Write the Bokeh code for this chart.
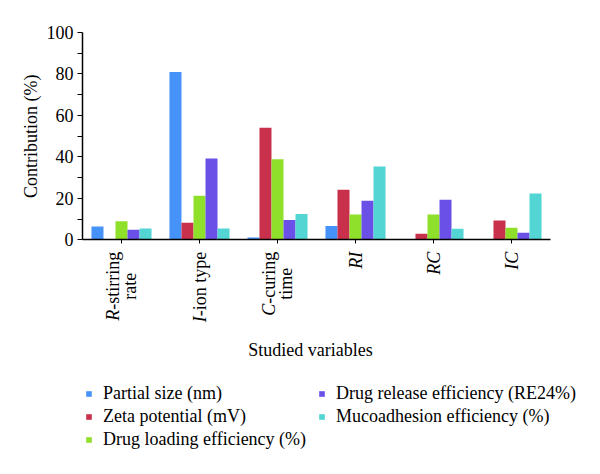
import math
from bokeh.plotting import figure
from bokeh.models import (Range1d, FixedTicker, Label, Legend, LegendItem,
                          ColumnDataSource)
from bokeh.embed import file_html
from bokeh.resources import INLINE

# ---------------- data ----------------
cat_italic = ["R", "I", "C", "RI", "RC", "IC"]
cat_rest = ["-stirring", "-ion type", "-curing", "", "", ""]
cat_line2 = ["rate", "", "time", "", "", ""]

series_names = ["Partial size (nm)", "Zeta potential (mV)",
                "Drug loading efficiency (%)", "Drug release efficiency (RE24%)",
                "Mucoadhesion efficiency (%)"]
partial_size = [6.4, 81.0, 1.1, 6.6, 0.2, 0.2]
zeta_potential = [0.3, 8.2, 54.1, 24.1, 2.9, 9.3]
drug_loading = [9.0, 21.2, 38.8, 12.2, 12.2, 5.8]
drug_release = [4.8, 39.2, 9.6, 18.8, 19.3, 3.4]
mucoadhesion = [5.4, 5.4, 12.5, 35.3, 5.3, 22.3]
y_ticks = [0, 20, 40, 60, 80, 100]
y_minor = [10, 30, 50, 70, 90]
x_title = "Studied variables"
y_title = "Contribution (%)"

colors = ["#4592f8", "#c8304c", "#8ee02b", "#6b50e8", "#52d5d3"]
FONT = "Liberation Serif"
FS = 18

values = [partial_size, zeta_potential, drug_loading, drug_release, mucoadhesion]
n = len(cat_italic)
xc = [i + 0.5 for i in range(n)]

# The frame is extended beyond the value area (all sides) so that the
# category labels, titles, tick labels and legend are drawn inside it.
X_PX = 78                          # pixels per category slot
Y_PX = 2.073                       # pixels per percentage point
x_lo, x_hi = -1.0, n + 0.5
FRAME_W = int(round((x_hi - x_lo) * X_PX))
TOP = 10                           # frame top (px)
TOP_PAD = 22                       # px between frame top and the value 100
FRAME_H = 442
y_end = 100 + TOP_PAD / Y_PX
y_start = y_end - FRAME_H / Y_PX

p = figure(frame_width=FRAME_W, frame_height=FRAME_H, output_backend="svg",
           toolbar_location=None,
           x_range=Range1d(x_lo, x_hi), y_range=Range1d(y_start, y_end),
           min_border_left=4, min_border_right=3, min_border_top=TOP,
           min_border_bottom=0)
p.outline_line_color = None
p.xgrid.visible = False
p.ygrid.visible = False
p.background_fill_color = "white"

bw = 0.154
renderers = []
for k, (name, vals, col) in enumerate(zip(series_names, values, colors)):
    src = ColumnDataSource(dict(x=[c + (k - 2) * bw for c in xc], top=vals))
    r = p.vbar(x="x", top="top", width=bw, bottom=0, source=src,
               fill_color=col, line_color=None)
    renderers.append(r)

# y axis pinned at x = 0, spanning 0..100
ya = p.yaxis[0]
ya.fixed_location = 0
ya.bounds = (0, 100)
ya.ticker = FixedTicker(ticks=y_ticks, minor_ticks=y_minor)
ya.major_label_text_font = FONT
ya.major_label_text_font_size = f"{FS}px"
ya.major_label_text_color = "black"
ya.major_label_standoff = 4
ya.major_tick_out = 5
ya.major_tick_in = 0
ya.minor_tick_out = 5
ya.minor_tick_in = 0
ya.axis_line_color = "black"
ya.axis_line_width = 1.5
ya.major_tick_line_color = "black"
ya.minor_tick_line_color = "black"

# x axis pinned at value 0, spanning the categories
xa = p.xaxis[0]
xa.fixed_location = 0
xa.bounds = (0, n)
xa.ticker = FixedTicker(ticks=xc)
xa.major_label_overrides = {c: "" for c in xc}
xa.major_label_text_font_size = "1px"
xa.major_label_standoff = 0
xa.major_tick_out = 4
xa.major_tick_in = 0
xa.minor_tick_out = 0
xa.minor_tick_in = 0
xa.axis_line_color = "black"
xa.axis_line_width = 1.5
xa.major_tick_line_color = "black"

# approximate Times advance widths (per 1000 em) to stack label pieces
W_ROMAN = {'-': 333, 's': 389, 't': 278, 'i': 278, 'r': 333, 'n': 500, 'g': 500,
           'o': 500, ' ': 250, 'y': 500, 'p': 500, 'e': 444, 'c': 444, 'u': 500,
           'a': 444, 'm': 778}
W_ITAL = {'R': 611, 'I': 333, 'C': 667}


def tw(s, table):
    return sum(table.get(ch, 500) for ch in s) * FS / 1000.0


TOP_GAP = 12
for i in range(n):
    two = cat_line2[i] != ""
    dx1 = -9 if two else 0
    w_rest = tw(cat_rest[i], W_ROMAN)
    w_line1 = w_rest + tw(cat_italic[i], W_ITAL)
    common = dict(angle=math.pi / 2, angle_units="rad", text_font=FONT,
                  text_font_size=f"{FS}px", text_color="black",
                  text_baseline="middle", x=xc[i], y=0)
    if cat_rest[i]:
        p.add_layout(Label(text=cat_rest[i], text_align="right",
                           x_offset=dx1, y_offset=-TOP_GAP, **common))
    p.add_layout(Label(text=cat_italic[i], text_align="right",
                       text_font_style="italic", x_offset=dx1,
                       y_offset=-(TOP_GAP + w_rest), **common))
    if two:
        p.add_layout(Label(text=cat_line2[i], text_align="center", x_offset=8,
                           y_offset=-(TOP_GAP + w_line1 / 2), **common))

# axis titles
p.add_layout(Label(x=n / 2, y=0, x_offset=-6, y_offset=-110, text=x_title,
                   text_align="center", text_baseline="middle", text_font=FONT,
                   text_font_size=f"{FS}px", text_color="black"))
p.add_layout(Label(x=0, y=50, x_offset=-52, text=y_title, angle=math.pi / 2,
                   angle_units="rad", text_align="center", text_baseline="middle",
                   text_font=FONT, text_font_size=f"{FS}px", text_color="black"))

# legends (two columns), positioned relative to the frame's bottom-left corner
items1 = [LegendItem(label=series_names[k], renderers=[renderers[k]]) for k in range(3)]
items2 = [LegendItem(label=series_names[k], renderers=[renderers[k]]) for k in range(3, 5)]
for items, loc in ((items1, (81, 1)), (items2, (314, 24))):
    leg = Legend(items=items, location=loc, orientation="vertical",
                 glyph_width=7, glyph_height=7, label_standoff=11,
                 label_height=23, spacing=0, padding=0, margin=0,
                 label_text_font=FONT, label_text_font_size=f"{FS}px",
                 label_text_color="black", border_line_color=None,
                 background_fill_alpha=0)
    p.add_layout(leg, "center")

open("out.html", "w").write(file_html(p, INLINE))
